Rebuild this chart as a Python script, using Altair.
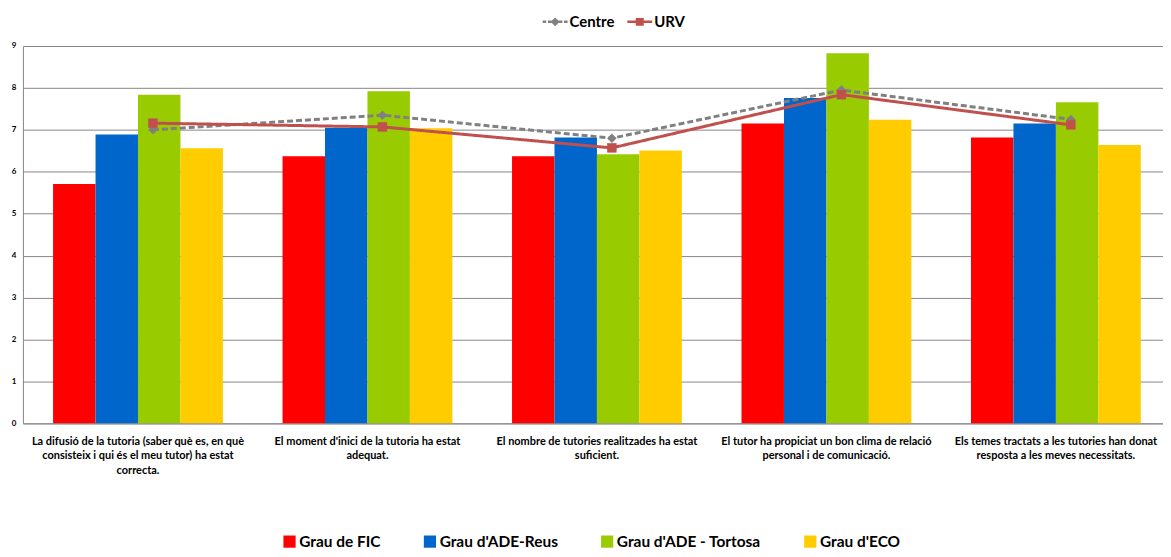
import altair as alt
import pandas as pd

categories = [
    "La difusió de la tutoria (saber què es, en què|consisteix i qui és el meu tutor) ha estat|correcta.",
    "El moment d'inici de la tutoria ha estat|adequat.",
    "El nombre de tutories realitzades ha estat|suficient.",
    "El tutor ha propiciat un bon clima de relació|personal i de comunicació.",
    "Els temes tractats a les tutories han donat|resposta a les meves necessitats.",
]
bar_series = ["Grau de FIC", "Grau d'ADE-Reus", "Grau d'ADE - Tortosa", "Grau d'ECO"]
bar_colors = ["#FF0000", "#0066CC", "#99CC00", "#FFCC00"]
fic = [5.71, 6.37, 6.37, 7.15, 6.82]
ade_reus = [6.89, 7.05, 6.82, 7.76, 7.15]
ade_tortosa = [7.84, 7.92, 6.42, 8.83, 7.66]
eco = [6.56, 7.04, 6.51, 7.24, 6.64]

line_series = ["Centre", "URV"]
line_colors = ["#808080", "#C0504D"]
centre = [7.00, 7.35, 6.80, 7.95, 7.25]
urv = [7.16, 7.07, 6.57, 7.84, 7.12]

y_ticks = list(range(10))

# legend glyphs (line with marker), unit box -1..1
centre_glyph = ("M-1,-0.1L-0.72,-0.1L-0.72,0.1L-1,0.1Z M-0.58,-0.1L-0.3,-0.1L-0.3,0.1L-0.58,0.1Z "
                "M0.3,-0.1L0.58,-0.1L0.58,0.1L0.3,0.1Z M0.72,-0.1L1,-0.1L1,0.1L0.72,0.1Z "
                "M0,-0.36L0.36,0L0,0.36L-0.36,0Z")
urv_glyph = "M-1,-0.1L1,-0.1L1,0.1L-1,0.1Z M-0.32,-0.32L0.32,-0.32L0.32,0.32L-0.32,0.32Z"

bar_rows = []
for s, vals in zip(bar_series, [fic, ade_reus, ade_tortosa, eco]):
    for c, v in zip(categories, vals):
        bar_rows.append({"cat": c, "series": s, "value": v})
bar_df = pd.DataFrame(bar_rows)

line_rows = []
for s, vals in zip(line_series, [centre, urv]):
    for c, v in zip(categories, vals):
        line_rows.append({"cat": c, "series": s, "value": v})
line_df = pd.DataFrame(line_rows)

FONT = "Lato"
GRID = "#868686"

x_enc = alt.X(
    "cat:N", sort=categories, title=None,
    scale=alt.Scale(paddingInner=0.26, paddingOuter=0.114, align=0.576),
    axis=alt.Axis(labelExpr="split(datum.label, '|')", labelAngle=0, labelFont=FONT,
                  labelFontWeight="bold", labelFontSize=11, labelLineHeight=14.5,
                  labelColor="#000000", labelPadding=12, labelLimit=400, ticks=False,
                  domainColor=GRID, labelBaseline="top"),
)
y_enc = alt.Y(
    "value:Q", title=None,
    scale=alt.Scale(domain=[0, 9], nice=False),
    axis=alt.Axis(values=y_ticks, labelFont=FONT, labelFontWeight="bold", labelFontSize=8,
                  labelColor="#000000", gridColor=GRID, domainColor=GRID, ticks=False,
                  labelPadding=7),
)

bars = alt.Chart(bar_df).mark_bar().encode(
    x=x_enc,
    xOffset=alt.XOffset("series:N", sort=bar_series,
                        scale=alt.Scale(paddingInner=0, paddingOuter=0)),
    y=y_enc,
    color=alt.Color("series:N", sort=bar_series,
                    scale=alt.Scale(domain=bar_series, range=bar_colors),
                    legend=alt.Legend(title=None, orient="none", direction="horizontal",
                                      legendX=260, legendY=490, columns=4, gridAlign="none",
                                      columnPadding=41, symbolType="square", symbolSize=150,
                                      symbolStrokeWidth=0, labelFont=FONT,
                                      labelFontWeight="bold", labelFontSize=15.5,
                                      labelColor="#000000", labelOffset=2)),
)

x_line = alt.X("cat:N", sort=categories, bandPosition=0.588, title=None)

lines = alt.Chart(line_df).mark_line(strokeWidth=3).encode(
    x=x_line,
    y=alt.Y("value:Q"),
    color=alt.Color("series:N", scale=alt.Scale(domain=line_series, range=line_colors),
                    legend=None),
    strokeDash=alt.StrokeDash("series:N",
                              scale=alt.Scale(domain=line_series, range=[[6, 3], [1, 0]]),
                              legend=None),
)

points = alt.Chart(line_df).mark_point(filled=True, opacity=1, size=90).encode(
    x=x_line,
    y=alt.Y("value:Q"),
    color=alt.Color("series:N", scale=alt.Scale(domain=line_series, range=line_colors),
                    legend=None),
    shape=alt.Shape("series:N", scale=alt.Scale(domain=line_series, range=["diamond", "square"]),
                    legend=None),
)

top_legend = dict(title=None, orient="none", direction="horizontal", legendX=522, legendY=-37,
                  symbolSize=625, symbolStrokeWidth=0, labelFont=FONT, labelFontWeight="bold",
                  labelFontSize=15, labelColor="#000000", labelOffset=2, columnPadding=12)

legend_layer = alt.Chart(line_df).transform_filter("false").mark_point(
    filled=True, opacity=1, strokeWidth=0
).encode(
    x=x_line,
    y=alt.Y("value:Q"),
    color=alt.Color("series:N", scale=alt.Scale(domain=line_series, range=line_colors),
                    legend=alt.Legend(**top_legend)),
    shape=alt.Shape("series:N",
                    scale=alt.Scale(domain=line_series, range=[centre_glyph, urv_glyph]),
                    legend=alt.Legend(**top_legend)),
)

chart = alt.layer(bars, lines, points, legend_layer).resolve_scale(
    color="independent", shape="independent"
).properties(
    width=1145, height=379,
    padding={"left": 15, "top": 37, "right": 0, "bottom": 125},
    autosize=alt.AutoSizeParams(type="none"),
).configure_view(stroke="transparent")

chart.save("out.html", embed_options={"renderer": "svg", "actions": False})
